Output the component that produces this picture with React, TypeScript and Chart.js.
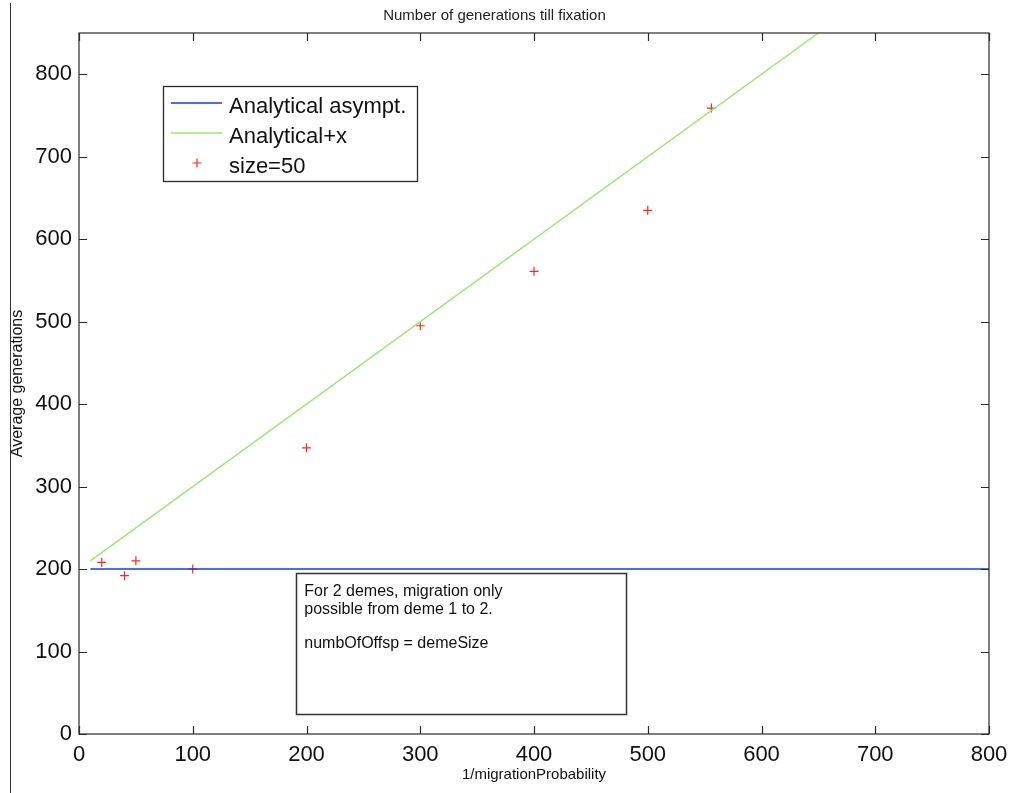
import React, { useEffect, useRef } from 'react';
import { Chart, registerables } from 'chart.js';

Chart.register(...registerables);

const chartTitle = 'Number of generations till fixation';
const xAxisTitle = '1/migrationProbability';
const yAxisTitle = 'Average generations';

const xTicks = [0, 100, 200, 300, 400, 500, 600, 700, 800];
const yTicks = [0, 100, 200, 300, 400, 500, 600, 700, 800];

const asymptX = [10, 800];
const asymptY = [200, 200];

const analyticalX = [10, 800];
const analyticalY = [210, 1000];

const simX = [20, 40, 50, 100, 200, 300, 400, 500, 556];
const simY = [208, 192, 210, 200, 347, 495, 561, 635, 759];

const legendLabels = ['Analytical asympt.', 'Analytical+x', 'size=50'];
const seriesColors = ['#0a3cff', '#9be870', '#ff2a1a'];

const noteLines = ['For 2 demes, migration only', 'possible from deme 1 to 2.', '', 'numbOfOffsp = demeSize'];
const noteBoxX = [191, 481];
const noteBoxY = [24, 195];

const FONT = '"Liberation Sans", Arial, Helvetica, sans-serif';

const frameAndDecor = {
  id: 'frameAndDecor',
  afterDatasetsDraw(chart: any) {
    const { ctx, chartArea } = chart;
    const { left, right, top, bottom } = chartArea;
    const xs = chart.scales.x;
    const ys = chart.scales.y;
    ctx.save();
    // frame
    ctx.strokeStyle = '#2a2a2a';
    ctx.lineWidth = 1.2;
    ctx.strokeRect(left, top, right - left, bottom - top);
    // inward ticks
    const tl = 8;
    ctx.beginPath();
    xs.ticks.forEach((t: any) => {
      const px = Math.round(xs.getPixelForValue(t.value)) + 0.5;
      ctx.moveTo(px, bottom);
      ctx.lineTo(px, bottom - tl);
      ctx.moveTo(px, top);
      ctx.lineTo(px, top + tl);
    });
    ys.ticks.forEach((t: any) => {
      const py = Math.round(ys.getPixelForValue(t.value)) + 0.5;
      ctx.moveTo(left, py);
      ctx.lineTo(left + tl, py);
      ctx.moveTo(right, py);
      ctx.lineTo(right - tl, py);
    });
    ctx.stroke();

    // legend
    const lx = left + 84;
    const ly = top + 53;
    const lw = 254;
    const lh = 95;
    ctx.fillStyle = '#ffffff';
    ctx.fillRect(lx, ly, lw, lh);
    ctx.strokeStyle = '#2a2a2a';
    ctx.lineWidth = 1.3;
    ctx.strokeRect(lx + 0.5, ly + 0.5, lw, lh);
    const ds = chart.data.datasets;
    ds.forEach((d: any, i: number) => {
      const ry = ly + 17 + i * 30;
      if (d.showLine) {
        ctx.strokeStyle = d.borderColor;
        ctx.lineWidth = 1.4;
        ctx.beginPath();
        ctx.moveTo(lx + 8, ry);
        ctx.lineTo(lx + 59, ry);
        ctx.stroke();
      } else {
        ctx.strokeStyle = d.borderColor;
        ctx.lineWidth = 1.2;
        ctx.beginPath();
        const cx = lx + 34;
        ctx.moveTo(cx - 4.5, ry);
        ctx.lineTo(cx + 4.5, ry);
        ctx.moveTo(cx, ry - 4.5);
        ctx.lineTo(cx, ry + 4.5);
        ctx.stroke();
      }
      ctx.fillStyle = '#111';
      ctx.font = `22px ${FONT}`;
      ctx.textBaseline = 'alphabetic';
      ctx.textAlign = 'left';
      ctx.fillText(d.label, lx + 66, ry + 10);
    });

    // note box
    const bx0 = xs.getPixelForValue(noteBoxX[0]);
    const bx1 = xs.getPixelForValue(noteBoxX[1]);
    const by0 = ys.getPixelForValue(noteBoxY[1]);
    const by1 = ys.getPixelForValue(noteBoxY[0]);
    ctx.fillStyle = '#ffffff';
    ctx.fillRect(bx0, by0, bx1 - bx0, by1 - by0);
    ctx.strokeStyle = '#333';
    ctx.lineWidth = 1.5;
    ctx.strokeRect(Math.round(bx0) + 0.5, Math.round(by0) + 0.5, Math.round(bx1 - bx0), Math.round(by1 - by0));
    ctx.fillStyle = '#111';
    ctx.font = `16px ${FONT}`;
    ctx.textAlign = 'left';
    ctx.textBaseline = 'alphabetic';
    let ty = by0 + 23;
    noteLines.forEach((line, i) => {
      if (i > 0) ty += line === '' || noteLines[i - 1] === '' ? 17 : 17.5;
      if (line) ctx.fillText(line, bx0 + 8, ty);
    });
    ctx.restore();
  },
};

export default function App() {
  const canvasRef = useRef<HTMLCanvasElement | null>(null);

  useEffect(() => {
    if (!canvasRef.current) return;
    const chart = new Chart(canvasRef.current, {
      type: 'scatter',
      data: {
        datasets: [
          {
            label: legendLabels[0],
            data: asymptX.map((x, i) => ({ x, y: asymptY[i] })),
            showLine: true,
            borderColor: seriesColors[0],
            borderWidth: 1.4,
            pointRadius: 0,
            fill: false,
          },
          {
            label: legendLabels[1],
            data: analyticalX.map((x, i) => ({ x, y: analyticalY[i] })),
            showLine: true,
            borderColor: seriesColors[1],
            borderWidth: 1.4,
            pointRadius: 0,
            fill: false,
          },
          {
            label: legendLabels[2],
            data: simX.map((x, i) => ({ x, y: simY[i] })),
            showLine: false,
            borderColor: seriesColors[2],
            backgroundColor: seriesColors[2],
            borderWidth: 1.2,
            pointStyle: 'cross',
            pointRadius: 4.5,
          },
        ],
      },
      options: {
        responsive: false,
        animation: false,
        layout: { padding: { left: 0, right: 23, top: 0, bottom: 0 } },
        plugins: {
          legend: { display: false },
          tooltip: { enabled: false },
          title: {
            display: true,
            text: chartTitle,
            color: '#222',
            font: { family: FONT, size: 15, weight: 'normal' },
            padding: { top: 7, bottom: 8 },
          },
        },
        scales: {
          x: {
            type: 'linear',
            min: 0,
            max: 800,
            afterBuildTicks: (scale: any) => {
              scale.ticks = xTicks.map((v) => ({ value: v }));
            },
            afterFit: (scale: any) => {
              scale.height = 59;
              scale.paddingLeft = 0;
              scale.paddingRight = 0;
            },
            grid: { display: false, drawTicks: false },
            border: { display: false },
            ticks: {
              color: '#111',
              padding: 8,
              maxRotation: 0,
              font: { family: FONT, size: 22 },
            },
            title: {
              display: true,
              text: xAxisTitle,
              color: '#111',
              font: { family: FONT, size: 15 },
              padding: { top: 0, bottom: 9 },
            },
          },
          y: {
            type: 'linear',
            min: 0,
            max: 850,
            afterBuildTicks: (scale: any) => {
              scale.ticks = yTicks.map((v) => ({ value: v }));
            },
            afterFit: (scale: any) => {
              scale.width = 79;
              scale.paddingTop = 0;
              scale.paddingBottom = 0;
            },
            grid: { display: false, drawTicks: false },
            border: { display: false },
            ticks: {
              color: '#111',
              padding: 7,
              font: { family: FONT, size: 22 },
            },
            title: {
              display: true,
              text: yAxisTitle,
              color: '#111',
              font: { family: FONT, size: 16 },
              padding: { top: 8, bottom: 0 },
            },
          },
        },
      },
      plugins: [frameAndDecor],
    });
    return () => chart.destroy();
  }, []);

  return (
    <div style={{ position: 'absolute', left: 0, top: 0, width: 1012, height: 793, background: '#fff' }}>
      <canvas ref={canvasRef} width={1012} height={793} style={{ display: 'block' }} />
      <div
        style={{
          position: 'absolute',
          left: 10,
          top: 3,
          width: 0,
          height: 790,
          borderLeft: '1.5px solid #333',
        }}
      />
    </div>
  );
}
